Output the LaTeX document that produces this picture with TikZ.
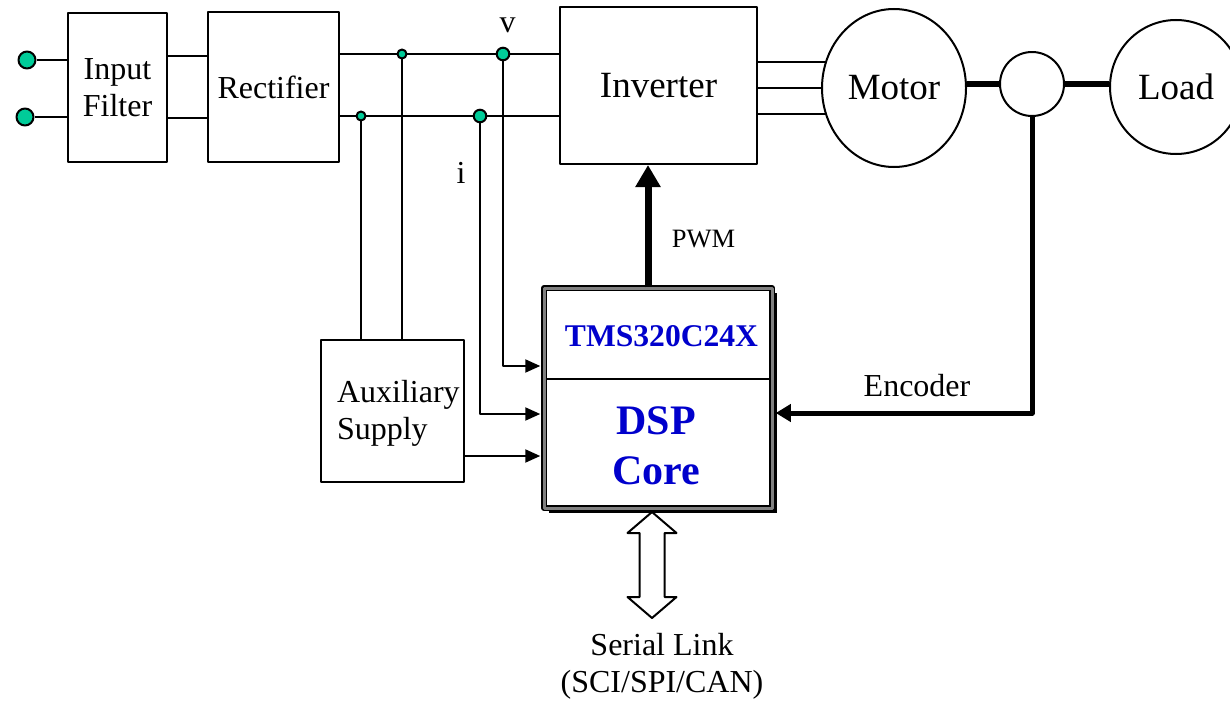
\documentclass[tikz,border=0pt]{standalone}
\usepackage{fontspec}
\setmainfont{Liberation Serif}
\usetikzlibrary{arrows.meta,shapes.geometric,shadows}
\definecolor{termgreen}{RGB}{0,204,153}
\definecolor{dspblue}{RGB}{0,0,204}
\begin{document}
\begin{tikzpicture}[x=0.5pt, y=-0.5pt, line width=1pt, line join=round,
		font=\fontsize{16}{18.5}\selectfont,
		blk/.style={draw, line width=1pt, inner sep=0pt, align=center},
		bigtxt/.style={font=\fontsize{18.5}{22}\selectfont},
		term/.style={circle, draw, fill=termgreen, inner sep=0pt, minimum size=8.5pt},
		jdot/.style={circle, draw, fill=termgreen, inner sep=0pt, minimum size=4.5pt},
		jbig/.style={circle, draw, fill=termgreen, inner sep=0pt, minimum size=6.3pt},
		sig/.style={-{Triangle[length=7.5pt, width=6.5pt]}, shorten >=1.5pt},
		shaft/.style={line width=3pt},
		lbl/.style={inner sep=0pt, anchor=base}]
	\useasboundingbox (0,0) rectangle (1230,701);
	\clip (0,0) rectangle (1230,701);
	
	% 1. Power stage blocks
	\node[blk, minimum width=49.5pt, minimum height=74.5pt] (filter) at (117.5,87.5) {Input\\Filter};
	\node[blk, minimum width=65.5pt, minimum height=75pt] (rect) at (273.5,87) {Rectifier};
	\node[blk, bigtxt, minimum width=98.5pt, minimum height=78.5pt] (inv) at (658.5,85.5) {Inverter};
	\node[draw, ellipse, bigtxt, inner sep=0pt, minimum width=72pt, minimum height=79pt] (motor) at (894,88) {Motor};
	\node[draw, circle, inner sep=0pt, minimum size=32pt] (coup) at (1032,84) {};
	\node[draw, ellipse, bigtxt, inner sep=0pt, minimum width=66pt, minimum height=67pt] (load) at (1176,87) {Load};
	\node[blk, minimum width=71.5pt, minimum height=71pt] (aux) at (392.5,411) {};
	\node[lbl, anchor=west, align=left] (auxtxt) at (336,413) {Auxiliary\\Supply};
	
	% 2. DSP controller
	\node[draw, fill=white, line width=0.75pt, double=gray, double distance=1.5pt,
		minimum width=114pt, minimum height=110pt, inner sep=0pt,
		drop shadow={shadow xshift=2.5pt, shadow yshift=-2.5pt, fill=black, opacity=1}] (dsp) at (658,398) {};
	\draw[line width=0.8pt, shorten <=1.5pt, shorten >=1.5pt] (dsp.west |- 0,379) -- (dsp.east |- 0,379);
	\node[lbl, text=dspblue, font=\bfseries\fontsize{15.8}{19}\selectfont] (tms) at (661.5,346) {TMS320C24X};
	\node[inner sep=0pt, align=center, text=dspblue, font=\bfseries\fontsize{21}{25}\selectfont] (core) at (656,446) {DSP\\Core};
	
	% 3. Terminals and DC bus
	\coordinate (j1) at (402,54);
	\coordinate (j2) at (361,116);
	\coordinate (jv) at (503,54);
	\coordinate (ji) at (480,116);
	\node[term] (t1) at (27,60) {};
	\node[term] (t2) at (25,117) {};
	\draw (t1) -- (t1 -| filter.west);
	\draw (t2) -- (t2 -| filter.west);
	\draw (filter.east |- 0,56) -- (rect.west |- 0,56);
	\draw (filter.east |- 0,118) -- (rect.west |- 0,118);
	\draw (rect.east |- 0,54) -- (inv.west |- 0,54);
	\draw (rect.east |- 0,116) -- (inv.west |- 0,116);
	\draw (j1) -- (j1 |- aux.north);
	\draw (j2) -- (j2 |- aux.north);
	\draw[sig] (jv) -- (jv |- 0,366) -- (dsp.west |- 0,366);
	\draw[sig] (ji) -- (ji |- 0,414) -- (dsp.west |- 0,414);
	\draw[sig] (aux.east |- 0,456) -- (dsp.west |- 0,456);
	\node[jdot] at (j1) {};
	\node[jdot] at (j2) {};
	\node[jbig] at (jv) {};
	\node[jbig] at (ji) {};
	\node[lbl] (vlbl) at (507.5,33) {v};
	\node[lbl] (ilbl) at (461,183) {i};
	
	% 4. Inverter to motor, shaft and load
	\draw (inv.east |- motor.159) -- (motor.159);
	\draw (inv.east |- motor.west) -- (motor.west);
	\draw (inv.east |- motor.201) -- (motor.201);
	\draw[shaft] (coup.west) -- (coup.west -| motor.east);
	\draw[shaft] (coup.east) -- (coup.east -| load.west);
	
	% 5. PWM and encoder feedback
	\draw[line width=3.5pt, -{Triangle[length=11pt, width=12pt]}] (dsp.north -| 648,0) -- (inv.south -| 648,0);
	\node[lbl, font=\fontsize{13.25}{16}\selectfont] (pwm) at (703.5,247) {PWM};
	\draw[line width=2.5pt, -{Triangle[length=7.5pt, width=8.5pt]}, shorten >=1.5pt]
		(coup.south) -- (coup.south |- 0,413) -- (dsp.east |- 0,413);
	\node[lbl] (enc) at (917,396) {Encoder};
	
	% 6. Serial link
	\draw[fill=white] (652,512) -- ++(24.5,21) -- ++(-12,0) -- ++(0,64) -- ++(12,0) -- ++(-24.5,21)
		-- ++(-24.5,-21) -- ++(12,0) -- ++(0,-64) -- ++(-12,0) -- cycle;
	\node[inner sep=0pt, align=center] (serial) at (662,666) {Serial Link\\(SCI/SPI/CAN)};
\end{tikzpicture}
\end{document}
